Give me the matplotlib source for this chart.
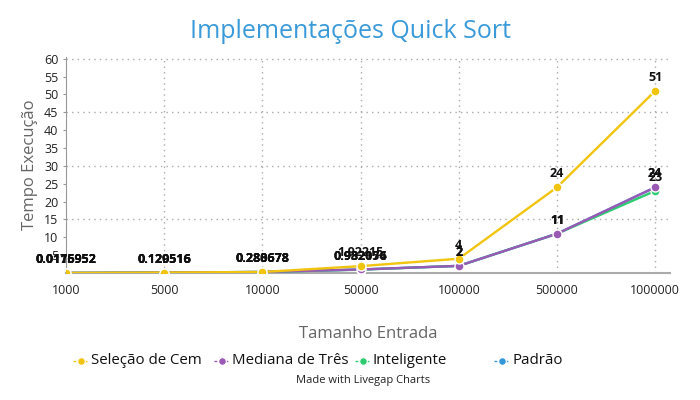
import matplotlib.pyplot as plt

plt.rcParams['font.family'] = ['Open Sans', 'DejaVu Sans']

tamanhos = ['1000', '5000', '10000', '50000', '100000', '500000', '1000000']
selecao_cem = [0.0116952, 0.129516, 0.280678, 1.922154, 4, 24, 51]
mediana_tres = [0.0175952, 0.120516, 0.288678, 0.982076, 2, 11, 24]
inteligente = [0.0116952, 0.129516, 0.280678, 0.932154, 2, 11, 23]
padrao = [0.0175952, 0.120516, 0.288678, 0.982076, 2, 11, 24]

series = [
    ('Padrão', padrao, '#3498db'),
    ('Inteligente', inteligente, '#2ecc71'),
    ('Mediana de Três', mediana_tres, '#9b59b6'),
    ('Seleção de Cem', selecao_cem, '#f1c40f'),
]
cores = {nome: cor for nome, _, cor in series}

fig = plt.figure(figsize=(7, 4), dpi=100)
ax = fig.add_axes([0.0943, 0.3175, 0.8627, 0.54])

xs = list(range(len(tamanhos)))
for nome, valores, cor in series:
    ax.plot(xs, valores, color=cor, lw=1.7, marker='o', markersize=6.5,
            markeredgecolor='white', markeredgewidth=1, zorder=3)
    for x, v in zip(xs, valores):
        ax.annotate(f'{v:g}', (x, v), xytext=(0, 5), textcoords='offset points',
                    ha='center', va='bottom', fontsize=9, fontweight='bold',
                    color='#111111', zorder=5)

ax.set_xlim(0, 6.15)
ax.set_ylim(0, 60.5)
ax.set_xticks(xs)
ax.set_xticklabels(tamanhos)
ax.set_yticks(range(5, 61, 5))

for s in ['top', 'right']:
    ax.spines[s].set_visible(False)
ax.spines['left'].set_color('#999999')
ax.spines['bottom'].set_color('#aaaaaa')
ax.spines['bottom'].set_linewidth(1.5)
ax.tick_params(axis='both', labelsize=9, colors='#222222', length=2)
ax.tick_params(axis='x', length=0, pad=8)
ax.tick_params(axis='y', color='#999999')

for y in [15, 30, 45, 60]:
    ax.axhline(y, color='#aaaaaa', ls=(0, (1, 3)), lw=1, zorder=1)
for x in xs[1:]:
    ax.axvline(x, color='#aaaaaa', ls=(0, (1, 3)), lw=1, zorder=1)

ax.set_ylabel('Tempo Execução', fontsize=12, color='#666666', labelpad=4)
ax.set_xlabel('Tamanho Entrada', fontsize=12, color='#666666', labelpad=21)

fig.text(0.5, 0.92, 'Implementações Quick Sort', ha='center', va='center',
         fontsize=18, color='#3a9ad9')

# legenda desenhada à mão (posições em pixels da figura)
ordem = ['Seleção de Cem', 'Mediana de Três', 'Inteligente', 'Padrão']
texto_x = [91, 232, 373, 512]
ly = 0.098
for nome, tx in zip(ordem, texto_x):
    cor = cores[nome]
    fig.add_artist(plt.Line2D([(tx - 18) / 700, (tx - 3) / 700], [ly, ly],
                              color=cor, lw=1, ls=(0, (2, 2))))
    fig.add_artist(plt.Line2D([(tx - 10.5) / 700], [ly], color=cor, marker='o',
                              markersize=5.5, markeredgecolor='white',
                              markeredgewidth=0.8))
    fig.text(tx / 700, ly, nome, ha='left', va='center', fontsize=10.8,
             color='#111111')

fig.text(0.518, 0.05, 'Made with Livegap Charts', ha='center', va='center',
         fontsize=8, color='#222222')

fig.savefig('out.png', dpi=100)
